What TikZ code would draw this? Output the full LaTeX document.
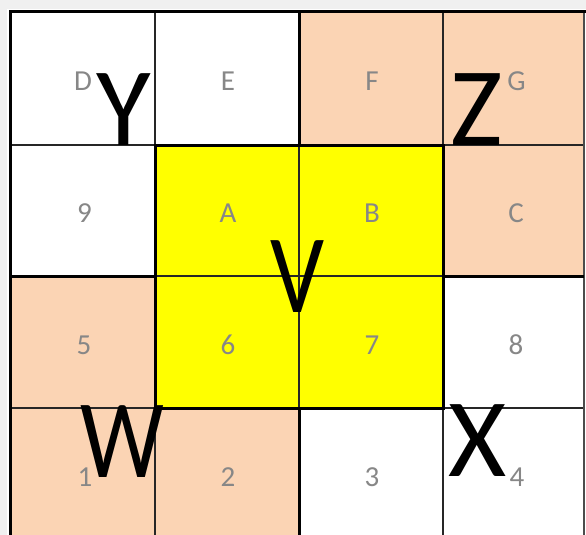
\documentclass[tikz,border=0pt]{standalone}
\usepackage{fontspec}
\setmainfont{Carlito}
\definecolor{peach}{RGB}{251,212,180}
\definecolor{lblgray}{RGB}{135,135,135}
\definecolor{bgstrip}{RGB}{240,240,240}
\definecolor{hilite}{RGB}{255,255,0}
\tikzset{
  lbl/.style={text=lblgray, font=\fontsize{29}{30}\selectfont, anchor=base, inner sep=0pt},
  big/.style={text=black, font=\fontsize{112}{112}\selectfont, anchor=base, inner sep=0pt},
  thinln/.style={line width=1.4pt, draw=black!85},
  thickln/.style={line width=3pt, draw=black},
}
\begin{document}
\begin{tikzpicture}[x=1pt,y=-1pt]
\useasboundingbox (0,0) rectangle (586,535);
\begin{scope}
\clip (0,0) rectangle (586,535);
% background
\fill[white] (0,0) rectangle (586,535);
\fill[bgstrip] (0,0) rectangle (586,9);
\fill[bgstrip] (0,0) rectangle (7,535);
% region fills
\fill[peach] (299,12) rectangle (584,145);
\fill[peach] (443,145) rectangle (584,276);
\fill[peach] (10,276) rectangle (155,539);
\fill[peach] (155,408) rectangle (299,539);
\fill[hilite] (155,145) rectangle (443,408);
% thin grid lines
\foreach \x in {155,299,443} \draw[thinln] (\x,12) -- (\x,539);
\foreach \y in {145,276,408} \draw[thinln] (10,\y) -- (584,\y);
\draw[line width=1.2pt, draw=black!70] (584,12) -- (584,539);
% thick region borders
\draw[thickln] (10,539) -- (10,12) -- (586,12);
\draw[thickln] (155,145) rectangle (443,408);
\draw[thickln] (299,12) -- (299,145);
\draw[thickln] (10,276) -- (155,276);
\draw[thickln] (443,276) -- (584,276);
\draw[thickln] (299,408) -- (299,539);
% small labels
\node[lbl] (lD) at (83,90) {D};
\node[lbl] (lE) at (228,90) {E};
\node[lbl] (lF) at (372,90) {F};
\node[lbl] (lG) at (516.5,90) {G};
\node[lbl] (l9) at (84.5,222) {9};
\node[lbl] (lA) at (228,222) {A};
\node[lbl] (lB) at (372,222) {B};
\node[lbl] (lC) at (516,222) {C};
\node[lbl] (l5) at (84,354) {5};
\node[lbl] (l6) at (228,354) {6};
\node[lbl] (l7) at (372,354) {7};
\node[lbl] (l8) at (516,354) {8};
\node[lbl] (l1) at (85,486) {1};
\node[lbl] (l2) at (228,486) {2};
\node[lbl] (l3) at (372,486) {3};
\node[lbl] (l4) at (517,486) {4};
% big letters
\node[big] (bY) at (123.5,145) {Y};
\node[big] (bZ) at (476.5,145) {Z};
\node[big] (bV) at (297.5,312) {\scalebox{0.85}[1]{V}};
\node[big] (bW) at (122,477) {\scalebox{0.84}[1]{W}};
\node[big] (bX) at (477.5,476) {X};
\end{scope}
\end{tikzpicture}
\end{document}
